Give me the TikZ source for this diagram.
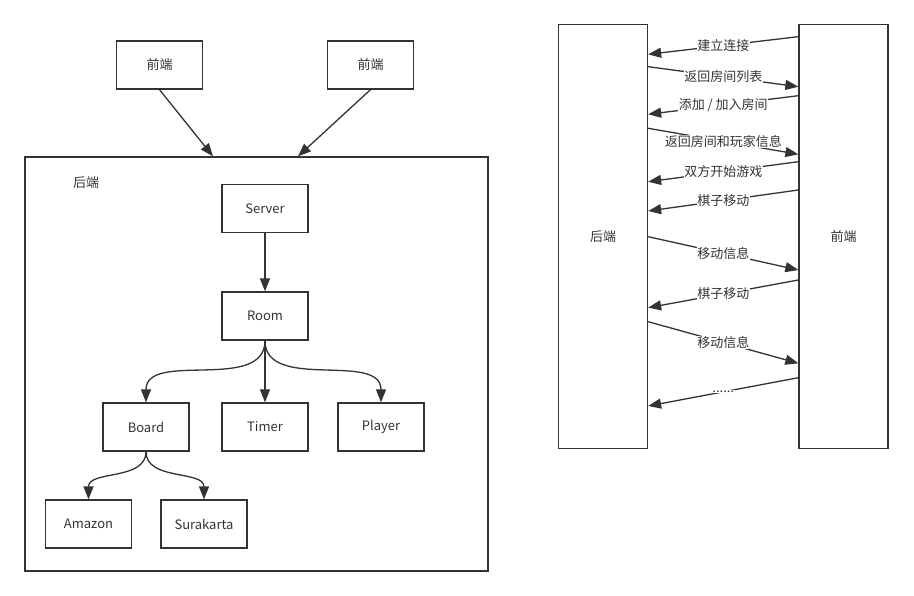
\documentclass[tikz,border=0pt]{standalone}
\usepackage{fontspec}
\setmainfont{Noto Sans CJK SC}
\usetikzlibrary{arrows.meta}

\definecolor{ink}{HTML}{333333}
\tikzset{
  box/.style={draw=ink, line width=1.3pt, minimum width=86pt, minimum height=48pt, text=ink},
  lifeline/.style={draw=ink, line width=1.3pt, minimum width=89pt, minimum height=424pt, text=ink},
  conn/.style={color=ink, line width=1.3pt, -{Triangle[length=13pt,width=10pt,fill=ink]}},
  lbl/.style={fill=white, inner sep=0.5pt, text=ink, pos=0.5},
}

\begin{document}
\begin{tikzpicture}[x=1pt, y=-1pt, font=\fontsize{13}{15}\selectfont]
\useasboundingbox (0,0) rectangle (914,596);
% left: structure of the program
\node[box] (fe1) at (159.5,65) {前端};
\node[box] (fe2) at (370.5,65) {前端};
\node[box, minimum width=463pt, minimum height=414pt] (backend) at (256.5,364) {};
\node[text=ink] (backlbl) at (86,183) {后端};
\draw[conn] (fe1.south) -- (213,0 |- backend.north);
\draw[conn] (fe2.south) -- (298,0 |- backend.north);
\node[box] (server) at (265,208.5) {Server};
\node[box] (room) at (265,316) {Room};
\node[box] (board) at (146,427) {Board};
\node[box] (timer) at (265,427) {Timer};
\node[box] (player) at (381,427) {Player};
\node[box] (amazon) at (88.5,524) {Amazon};
\node[box] (surakarta) at (204,524) {Surakarta};
\draw[conn] (server) -- (room);
\draw[conn] (room.south) to[out=-90,in=90] (board.north);
\draw[conn] (room) -- (timer);
\draw[conn] (room.south) to[out=-90,in=90] (player.north);
\draw[conn] (board.south) to[out=-90,in=90] (amazon.north);
\draw[conn] (board.south) to[out=-90,in=90] (surakarta.north);
% right: messages
\node[lifeline] (back) at (603,236.3) {后端};
\node[lifeline] (front) at (843.5,236.3) {前端};
\draw[conn] (front.west |- 0,36.7) -- node[lbl] {建立连接} (back.east |- 0,54.3);
\draw[conn] (back.east |- 0,66.7) -- node[lbl] {返回房间列表} (front.west |- 0,86.7);
\draw[conn] (front.west |- 0,95.7) -- node[lbl] {添加 / 加入房间} (back.east |- 0,114.3);
\draw[conn] (back.east |- 0,128.3) -- node[lbl] {返回房间和玩家信息} (front.west |- 0,154.3);
\draw[conn] (front.west |- 0,161.7) -- node[lbl] {双方开始游戏} (back.east |- 0,181.7);
\draw[conn] (front.west |- 0,190) -- node[lbl] {棋子移动} (back.east |- 0,211);
\draw[conn] (back.east |- 0,236.7) -- node[lbl] {移动信息} (front.west |- 0,270);
\draw[conn] (front.west |- 0,280) -- node[lbl] {棋子移动} (back.east |- 0,307.7);
\draw[conn] (back.east |- 0,321.7) -- node[lbl] {移动信息} (front.west |- 0,363.3);
\draw[conn] (front.west |- 0,377.7) -- node[lbl] {......} (back.east |- 0,406);
\end{tikzpicture}
\end{document}
